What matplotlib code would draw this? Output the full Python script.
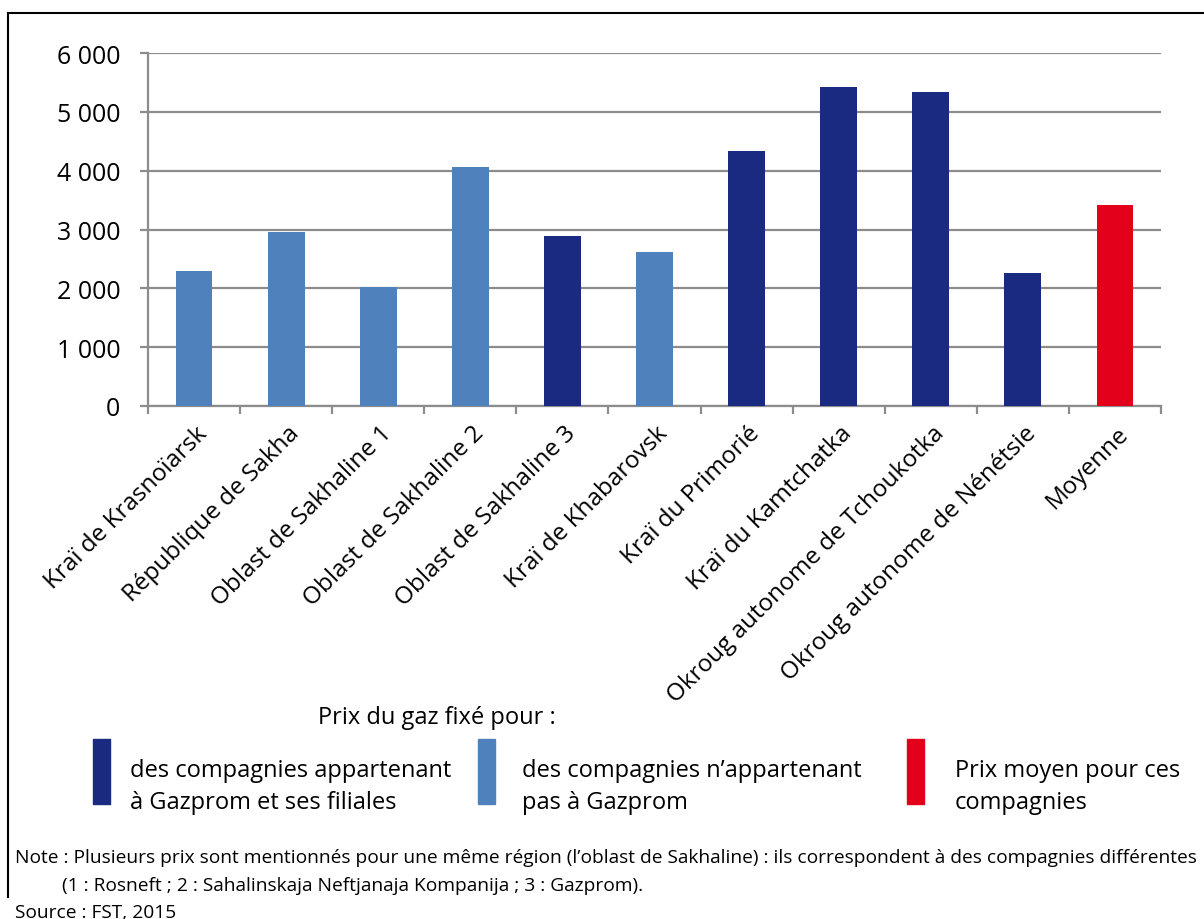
import matplotlib.pyplot as plt
import matplotlib.patches as mpatches
import matplotlib.transforms as mtransforms
import numpy as np
from matplotlib.ticker import FuncFormatter

regions = ["Kraï de Krasnoïarsk", "République de Sakha", "Oblast de Sakhaline 1",
           "Oblast de Sakhaline 2", "Oblast de Sakhaline 3", "Kraï de Khabarovsk",
           "Kraï du Primorié", "Kraï du Kamtchatka", "Okroug autonome de Tchoukotka",
           "Okroug autonome de Nénétsie", "Moyenne"]
prices = [2295, 2958, 2023, 4063, 2890, 2612, 4340, 5428, 5337, 2266, 3417]
# 0 = Gazprom, 1 = hors Gazprom, 2 = moyenne
groups = [1, 1, 1, 1, 0, 1, 0, 0, 0, 0, 2]

group_colors = ["#1a2a80", "#4f81bd", "#e2001a"]
group_labels = ["des compagnies appartenant\nà Gazprom et ses filiales",
                "des compagnies n\u2019appartenant\npas à Gazprom",
                "Prix moyen pour ces\ncompagnies"]
yticks = [0, 1000, 2000, 3000, 4000, 5000, 6000]

plt.rcParams['font.family'] = ['Open Sans', 'DejaVu Sans']

fig = plt.figure(figsize=(12.04, 9.2), dpi=100)
ax = fig.add_axes([148/1204, 1 - 407/920, (1161-148)/1204, (407-54)/920])

x = np.arange(len(regions))
ax.bar(x, prices, width=0.4, color=[group_colors[g] for g in groups], zorder=3)

grey = "#8c8c8c"
ax.set_xlim(-0.5, len(regions) - 0.5)
ax.set_ylim(0, 6000)
ax.set_yticks(yticks)
ax.yaxis.set_major_formatter(FuncFormatter(lambda v, p: f"{int(v):,}".replace(",", " ")))
ax.yaxis.grid(True, color=grey, linewidth=1.6, zorder=0)
ax.set_xticks(np.arange(len(regions) + 1) - 0.5, minor=True)
ax.set_xticks(x)
ax.set_xticklabels(regions, rotation=45, ha="right", va="center", rotation_mode="anchor")
ax.tick_params(axis="x", which="major", length=0, labelsize=17.5, pad=14)
ax.tick_params(axis="x", which="minor", length=6, width=1.6, color=grey)
ax.tick_params(axis="y", length=6, width=1.6, color=grey, labelsize=18, pad=14)
shift = mtransforms.ScaledTranslation(10/100, -4/100, fig.dpi_scale_trans)
for lab in ax.get_xticklabels():
    lab.set_transform(lab.get_transform() + shift)
for s in ["top", "right"]:
    ax.spines[s].set_visible(False)
for s in ["left", "bottom"]:
    ax.spines[s].set_color(grey)
    ax.spines[s].set_linewidth(1.6)

# frame around the figure (left and top only, as in the source)
fig.add_artist(plt.Line2D([8/1204, 8/1204], [1 - 14/920, 1 - 898/920], color="black", lw=1.5))
fig.add_artist(plt.Line2D([8/1204, 1.0], [1 - 14/920, 1 - 14/920], color="black", lw=1.5))

# legend
fig.text(318/1204, 1 - 718/920, "Prix du gaz fixé pour :", fontsize=17, va="center")
patch_x = [93, 478, 907]
text_x = [130, 522, 955]
for px, tx, c, lab in zip(patch_x, text_x, group_colors, group_labels):
    fig.add_artist(mpatches.Rectangle((px/1204, 1 - 805/920), 17/1204, 65/920,
                                      color=c, transform=fig.transFigure))
    fig.text(tx/1204, 1 - 787/920, lab, fontsize=17, va="center", linespacing=1.45)

fig.text(15/1204, 1 - 858/920,
         "Note : Plusieurs prix sont mentionnés pour une même région (l\u2019oblast de Sakhaline) : "
         "ils correspondent à des compagnies différentes",
         fontsize=13.8, va="center")
fig.text(62/1204, 1 - 886/920,
         "(1 : Rosneft ; 2 : Sahalinskaja Neftjanaja Kompanija ; 3 : Gazprom).",
         fontsize=13.8, va="center")
fig.text(15/1204, 1 - 913/920, "Source : FST, 2015", fontsize=13.8, va="center")

fig.savefig("out.png", dpi=100)
